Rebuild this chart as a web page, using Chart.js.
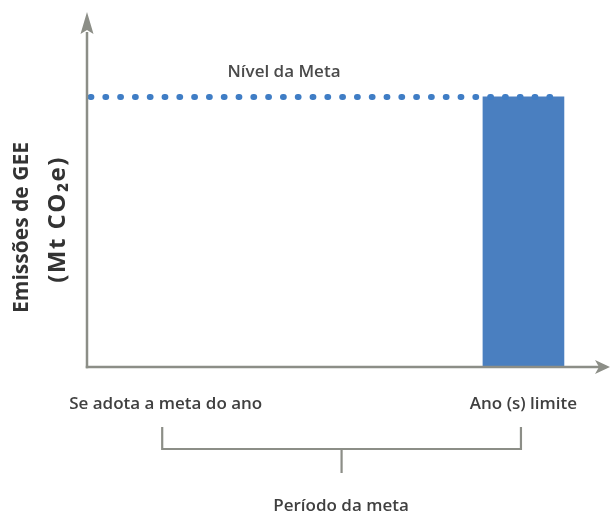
<!DOCTYPE html>
<html lang="pt">
<head>
<meta charset="utf-8">
<title>Nível da Meta</title>
<script src="https://cdn.jsdelivr.net/npm/chart.js@4.4.1/dist/chart.umd.min.js"></script>
<style>
  html, body { margin: 0; padding: 0; background: #fff; }
  #wrap { width: 611px; height: 513px; }
</style>
</head>
<body>
<div id="wrap"><canvas id="graficoMeta"></canvas></div>
<script>
// eixo x em anos relativos: ano em que se adota a meta = 0, ano limite = 10
var anoInicio = 0, anoLimite = 10;
var eixoXMin = -2.2, eixoXMax = 12;
var rotulosX = ['Se adota a meta do ano', 'Ano (s) limite'];

var nivelMeta = 100;
var eixoYMax = 103.3;
var emissoesAnoLimite = [{x: anoLimite, y: 100}];
var linhaMeta = [{x: -2.1, y: nivelMeta}, {x: 11.1, y: nivelMeta}];

var corEixo = '#8c8e87';
var corTexto = '#404040';
var fonte = "'Open Sans', 'DejaVu Sans', sans-serif";

function seta(ctx, x, y, dx, dy, L, W) {
    var n = 4;
    var px = -dy, py = dx;
    ctx.beginPath();
    ctx.moveTo(x, y);
    ctx.lineTo(x - dx * L + px * W, y - dy * L + py * W);
    ctx.lineTo(x - dx * (L - n), y - dy * (L - n));
    ctx.lineTo(x - dx * L - px * W, y - dy * L - py * W);
    ctx.closePath();
    ctx.fill();
}

var desenhoExtra = {
    id: 'desenhoExtra',
    afterDraw: function(chart) {
        var ctx = chart.ctx, a = chart.chartArea;
        var sx = chart.scales.x, sy = chart.scales.y;
        ctx.save();
        ctx.strokeStyle = corEixo;
        ctx.fillStyle = corEixo;
        ctx.lineWidth = 2.5;

        // eixos com setas
        ctx.beginPath();
        ctx.moveTo(a.left, a.bottom + 1.2);
        ctx.lineTo(a.left, 32);
        ctx.stroke();
        seta(ctx, a.left, 12, 0, -1, 22, 6.5);

        ctx.beginPath();
        ctx.moveTo(a.left - 1.2, a.bottom);
        ctx.lineTo(chart.width - 12, a.bottom);
        ctx.stroke();
        seta(ctx, chart.width - 1, a.bottom, 1, 0, 15, 7);

        // chave do período
        var x0 = sx.getPixelForValue(anoInicio) - 3.5;
        var x1 = sx.getPixelForValue(anoLimite) - 2.5;
        var xm = (x0 + x1) / 2;
        var yb = a.bottom + 82;
        ctx.lineWidth = 2.2;
        ctx.beginPath();
        ctx.moveTo(x0, a.bottom + 60);
        ctx.lineTo(x0, yb);
        ctx.lineTo(x1, yb);
        ctx.lineTo(x1, a.bottom + 60);
        ctx.moveTo(xm, yb);
        ctx.lineTo(xm, yb + 24);
        ctx.stroke();

        // unidade do eixo y
        ctx.save();
        ctx.translate(a.left - 29, (a.top + a.bottom) / 2 - 8);
        ctx.rotate(-Math.PI / 2);
        ctx.fillStyle = '#333';
        ctx.font = 'bold 24px ' + fonte;
        ctx.letterSpacing = '1.5px';
        ctx.textAlign = 'center';
        ctx.textBaseline = 'middle';
        ctx.fillText('(Mt CO₂e)', 0, 0);
        ctx.restore();

        // rótulo do nível
        ctx.fillStyle = '#4a4a4a';
        ctx.font = '600 17px ' + fonte;
        ctx.textAlign = 'center';
        ctx.textBaseline = 'middle';
        ctx.fillText('Nível da Meta', a.left + 197, sy.getPixelForValue(nivelMeta) - 25);
        ctx.restore();
    }
};

const ctx = document.getElementById('graficoMeta').getContext('2d');

const chart = new Chart(ctx, {
    type: 'bar',
    data: {
        datasets: [
            {
                type: 'line',
                label: 'Nível da Meta',
                data: linhaMeta,
                borderColor: '#3f7dc5',
                borderWidth: 6,
                borderDash: [0.8, 14],
                borderCapStyle: 'round',
                pointRadius: 0,
                fill: false
            },
            {
                label: 'Emissões',
                data: emissoesAnoLimite,
                backgroundColor: '#4a7fc0',
                borderWidth: 0,
                barThickness: 81
            }
        ]
    },
    options: {
        responsive: true,
        maintainAspectRatio: false,
        animation: false,
        layout: { padding: { left: 4, top: 88, right: 16, bottom: 0 } },
        plugins: {
            legend: { display: false },
            tooltip: { enabled: false }
        },
        scales: {
            x: {
                type: 'linear',
                min: eixoXMin,
                max: eixoXMax,
                offset: false,
                grid: { display: false, drawTicks: false },
                border: { display: false },
                afterBuildTicks: function(axis) {
                    axis.ticks = [{value: anoInicio}, {value: anoLimite}];
                },
                ticks: {
                    autoSkip: false,
                    maxRotation: 0,
                    padding: 27,
                    color: corTexto,
                    font: { family: fonte, size: 17, weight: '600' },
                    callback: function(value, index) { return rotulosX[index]; }
                },
                title: {
                    display: true,
                    text: 'Período da meta',
                    color: corTexto,
                    font: { family: fonte, size: 17, weight: '600', lineHeight: '14px' },
                    padding: { top: 57.6, bottom: 0 }
                }
            },
            y: {
                min: 0,
                max: eixoYMax,
                grid: { display: false, drawTicks: false },
                border: { display: false },
                ticks: { display: false },
                title: {
                    display: true,
                    text: 'Emissões de GEE',
                    color: '#333',
                    font: { family: fonte, size: 21, weight: 'bold', lineHeight: '26px' },
                    padding: { top: 5, bottom: 52 }
                }
            }
        }
    },
    plugins: [desenhoExtra]
});
</script>
</body>
</html>
